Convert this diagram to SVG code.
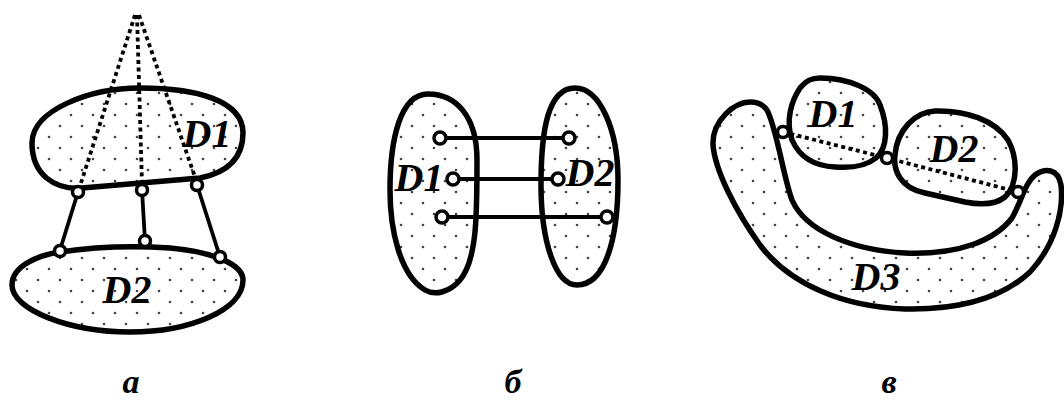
<svg xmlns="http://www.w3.org/2000/svg" width="1064" height="401" viewBox="0 0 1064 401">
<defs>
<pattern id="dots" width="22" height="22" patternUnits="userSpaceOnUse">
<rect width="22" height="22" fill="#fff"/>
<circle cx="5" cy="5" r="1.3" fill="#444"/>
<circle cx="16" cy="16" r="1.3" fill="#444"/>
</pattern>
<style>
.blob{fill:url(#dots);stroke:#000;stroke-width:5.5;stroke-linejoin:round}
.link{stroke:#000;stroke-width:3.8;fill:none;stroke-linecap:round}
.dot{stroke:#000;stroke-width:3.8;fill:none;stroke-dasharray:4 3.5}
.pin{fill:#fff;stroke:#000;stroke-width:3.5}
.lbl{font-family:"Liberation Serif","Times New Roman",serif;font-weight:bold;font-style:italic;font-size:40px;text-anchor:middle;fill:#000}
.cap{font-family:"Liberation Serif","Times New Roman",serif;font-weight:bold;font-style:italic;font-size:34px;text-anchor:middle;fill:#000}
</style>
</defs>
<rect width="1064" height="401" fill="#fff"/>

<!-- Panel a -->
<g id="a-D1">
<path class="blob" d="M 32,143 C 32,110 90,88 140,88 C 195,88 243,100 243,133 C 243,160 225,173 200,178 L 82,188 C 55,190 32,175 32,143 Z"/>
<text class="lbl" x="207" y="147">D1</text>
</g>
<g id="a-D2">
<path class="blob" d="M 12,285 C 12,265 40,255 60,252 C 100,246 140,246 170,248 C 215,252 243,265 243,280 C 243,310 190,332 130,332 C 70,332 12,310 12,285 Z"/>
<text class="lbl" x="127" y="303">D2</text>
</g>
<g id="a-connectors">
<path class="dot" d="M 135,15 L 80,186 M 137,15 L 142,184 M 139,15 L 196,180"/>
<path class="link" d="M 78,192 L 60,250 M 142,190 L 145,241 M 197,185 L 220,257"/>
<circle class="pin" cx="78" cy="192" r="5.5"/>
<circle class="pin" cx="142" cy="190" r="5.5"/>
<circle class="pin" cx="197" cy="185" r="5.5"/>
<circle class="pin" cx="60" cy="251" r="5.5"/>
<circle class="pin" cx="145" cy="241" r="5.5"/>
<circle class="pin" cx="220" cy="257" r="5.5"/>
</g>

<!-- Panel b -->
<g id="b-D1">
<path class="blob" d="M 428,94 C 455,94 477,115 477,160 C 477,215 477,260 460,280 C 450,292 435,296 425,290 C 400,275 390,230 390,190 C 390,140 400,94 428,94 Z"/>
<text class="lbl" x="419" y="191">D1</text>
</g>
<g id="b-D2">
<path class="blob" d="M 575,88 C 600,88 618,130 618,180 C 618,240 605,285 577,285 C 555,285 541,240 541,185 C 541,130 548,88 575,88 Z"/>
<text class="lbl" x="590" y="186">D2</text>
</g>
<g id="b-connectors">
<path class="link" d="M 440,138 L 569,138 M 453,179 L 558,179 M 442,217 L 607,217"/>
<circle class="pin" cx="440" cy="138" r="6"/>
<circle class="pin" cx="569" cy="138" r="6"/>
<circle class="pin" cx="453" cy="179" r="6"/>
<circle class="pin" cx="558" cy="179" r="6"/>
<circle class="pin" cx="442" cy="217" r="6"/>
<circle class="pin" cx="607" cy="217" r="6"/>
</g>

<!-- Panel v -->
<g id="v-D3">
<path class="blob" d="M 750,102 C 760,102 765,106 768,112 C 778,135 783,175 792,200 C 805,230 850,250 905,253 C 960,255 995,240 1012,218 C 1022,200 1025,183 1035,175 C 1045,168 1058,168 1061,185 C 1064,210 1055,245 1030,272 C 1000,300 955,310 905,309 C 845,307 790,285 760,245 C 735,210 715,170 713,145 C 712,120 735,102 750,102 Z"/>
<text class="lbl" x="876" y="290">D3</text>
</g>
<g id="v-D1">
<path class="blob" d="M 820,78 C 850,78 875,90 880,105 C 888,125 888,148 876,158 C 865,167 848,168 835,167 C 815,166 800,158 792,140 C 785,120 792,100 800,88 C 806,80 812,78 820,78 Z"/>
<text class="lbl" x="833" y="127">D1</text>
</g>
<g id="v-D2">
<path class="blob" d="M 935,111 C 965,110 995,120 1008,140 C 1018,158 1018,185 1005,197 C 995,205 980,205 965,202 L 925,193 C 900,188 893,170 895,155 C 897,130 915,112 935,111 Z"/>
<text class="lbl" x="954" y="162">D2</text>
</g>
<g id="v-connectors">
<path class="dot" d="M 783,132 L 887,158 L 1018,192"/>
<circle class="pin" cx="783" cy="132" r="5.5"/>
<circle class="pin" cx="887" cy="158" r="5.5"/>
<circle class="pin" cx="1018" cy="192" r="5.5"/>
</g>

<g id="captions">
<text class="cap" x="131" y="393">а</text>
<text class="cap" x="513" y="393">б</text>
<text class="cap" x="889" y="393">в</text>
</g>
</svg>
